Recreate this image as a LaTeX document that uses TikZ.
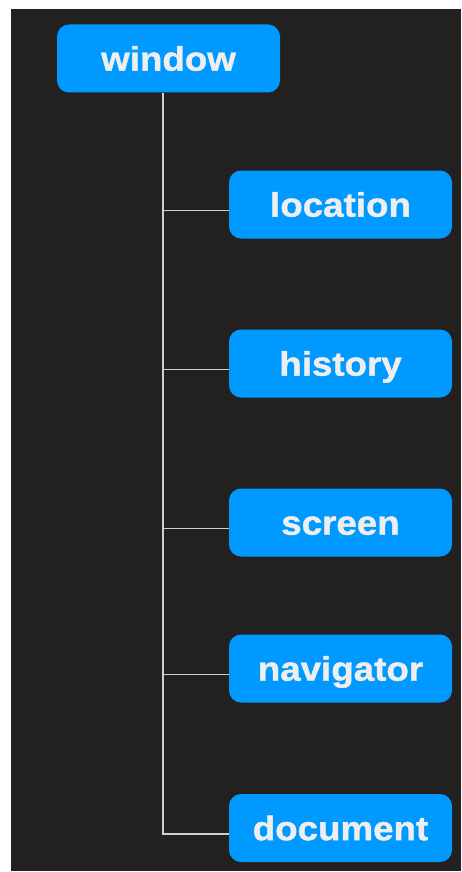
\documentclass[tikz,border=0pt]{standalone}
\usepackage{fontspec}
\usepackage{tikz}
\usetikzlibrary{positioning}
\newfontfamily\boxfont{Liberation Sans}[FakeStretch=1.08,FakeBold=1.2]
\definecolor{bgdark}{HTML}{222120}
\definecolor{boxblue}{HTML}{0099FF}
\definecolor{boxtext}{HTML}{EEEEEE}
\definecolor{treeline}{HTML}{D0D0D0}

\begin{document}
\begin{tikzpicture}[x=1pt,y=-1pt,
                    box/.style={fill=boxblue,rounded corners=12pt,minimum width=223pt,
                    minimum height=68pt,inner sep=0pt,text=boxtext,
                    font=\boxfont\bfseries\fontsize{34}{40}\selectfont,
                    text height=31pt,text depth=6.6pt},
                    tree/.style={draw=treeline,line width=1.5pt}]

	\useasboundingbox (0,0) rectangle (461,872);
	\fill[bgdark] (11,9) rectangle (461,871);

  	\node[box] (W) at (168.5,58.5)   			{window};
  	\node[box] (L) at (340.5,204.5)   			{location};
	\node[box] (H) at (340.5,363.5)   			{history};
	\node[box] (S) at (340.5,522.5)   			{screen};
	\node[box] (N) at (340.5,668.5)   			{navigator};
	\node[box] (D) at (340.5,828)   			{document};

	\coordinate (T) at ([xshift=-5.5pt]W.south);

	\path[tree] (T) |- ([yshift=-6pt]D.west);
	\path[tree] (T |- L.west) ++(0,6) -- ([yshift=-6pt]L.west);
	\path[tree] (T |- H.west) ++(0,6) -- ([yshift=-6pt]H.west);
	\path[tree] (T |- S.west) ++(0,6) -- ([yshift=-6pt]S.west);
	\path[tree] (T |- N.west) ++(0,6) -- ([yshift=-6pt]N.west);

\end{tikzpicture}
\end{document}
